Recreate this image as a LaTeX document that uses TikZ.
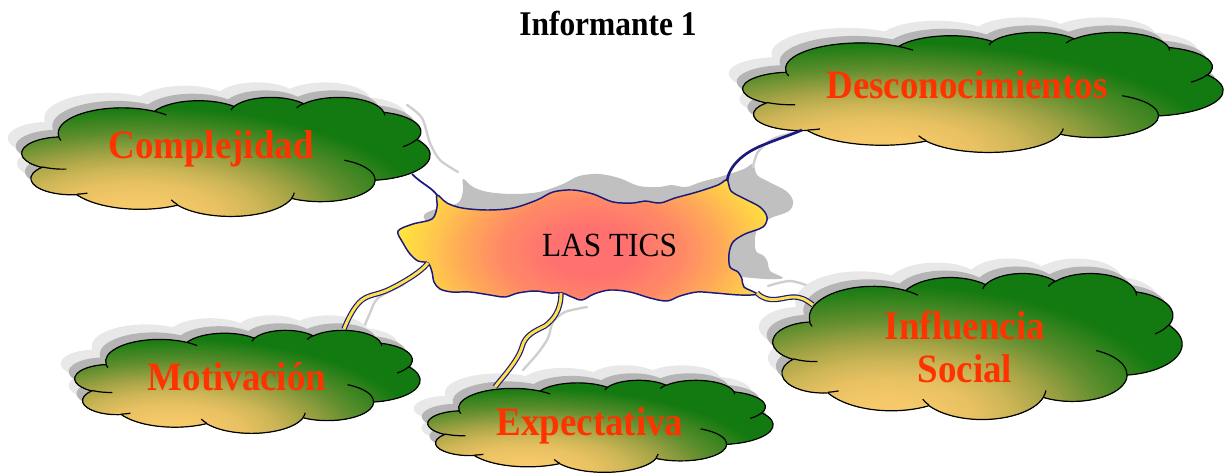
\documentclass[tikz,border=0pt]{standalone}
\usepackage{fontspec}
\setmainfont{Liberation Serif}
\usepackage{graphicx}

\definecolor{navyc}{HTML}{1A1A7E}
\definecolor{yel}{HTML}{FFE14A}
\definecolor{txtred}{HTML}{FF3300}
\definecolor{shdark}{HTML}{B5B5B5}
\definecolor{shlight}{HTML}{E8E8E8}
\definecolor{blobshadow}{HTML}{C0C0C0}
\definecolor{cshad}{HTML}{CFCFCF}
\definecolor{cya}{HTML}{F6C96A}
\definecolor{cyb}{HTML}{E8C162}
\definecolor{cyc}{HTML}{CBB556}
\definecolor{cyd}{HTML}{A2A345}
\definecolor{cye}{HTML}{5F8E2E}
\definecolor{cyf}{HTML}{127A10}
\definecolor{ba}{HTML}{FF7070}
\definecolor{bb}{HTML}{FF8A66}
\definecolor{bc}{HTML}{FFAA58}
\definecolor{bd}{HTML}{FFCC4A}
\definecolor{be}{HTML}{FFE33E}

% gradient colour helpers
\newcommand\cloudcol[1]{%
 \pgfmathsetmacro\rr{#1}%
 \ifdim\rr pt<0.14pt \colorlet{gc}{cya}%
 \else\ifdim\rr pt<0.34pt \pgfmathsetmacro\gcp{100*(0.34-\rr)/0.20}\colorlet{gc}{cya!\gcp!cyb}%
 \else\ifdim\rr pt<0.50pt \pgfmathsetmacro\gcp{100*(0.50-\rr)/0.16}\colorlet{gc}{cyb!\gcp!cyc}%
 \else\ifdim\rr pt<0.66pt \pgfmathsetmacro\gcp{100*(0.66-\rr)/0.16}\colorlet{gc}{cyc!\gcp!cyd}%
 \else\ifdim\rr pt<0.86pt \pgfmathsetmacro\gcp{100*(0.86-\rr)/0.20}\colorlet{gc}{cyd!\gcp!cye}%
 \else\ifdim\rr pt<1.15pt \pgfmathsetmacro\gcp{100*(1.15-\rr)/0.29}\colorlet{gc}{cye!\gcp!cyf}%
 \else \colorlet{gc}{cyf}\fi\fi\fi\fi\fi\fi}
\newcommand\blobcol[1]{%
 \pgfmathsetmacro\rr{#1}%
 \ifdim\rr pt<0.2pt \colorlet{gc}{ba}%
 \else\ifdim\rr pt<0.48pt \pgfmathsetmacro\gcp{100*(0.48-\rr)/0.28}\colorlet{gc}{ba!\gcp!bb}%
 \else\ifdim\rr pt<0.68pt \pgfmathsetmacro\gcp{100*(0.68-\rr)/0.20}\colorlet{gc}{bb!\gcp!bc}%
 \else\ifdim\rr pt<0.86pt \pgfmathsetmacro\gcp{100*(0.86-\rr)/0.18}\colorlet{gc}{bc!\gcp!bd}%
 \else\ifdim\rr pt<1pt \pgfmathsetmacro\gcp{100*(1-\rr)/0.14}\colorlet{gc}{bd!\gcp!be}%
 \else \colorlet{gc}{be}\fi\fi\fi\fi\fi}

% visual-angle (DrawingML) arc -> TikZ parametric arc
\newcommand\ooarcdef[5]{%
  \pgfmathparse{atan2((#2)*sin(#4),(#3)*cos(#4))}\let\tmpS\pgfmathresult
  \pgfmathparse{atan2((#2)*sin((#4)+(#5)),(#3)*cos((#4)+(#5)))}\let\tmpE\pgfmathresult
  \pgfmathparse{\tmpE-\tmpS}\let\tmpD\pgfmathresult
  \pgfmathparse{\tmpD+360*round(((#5)-\tmpD)/360)}\let\tmpD\pgfmathresult
  \expandafter\xdef\csname oo#1\endcsname{arc[start angle=\tmpS, delta angle=\tmpD, x radius=#2, y radius=#3]}}

\ooarcdef{A}{67.53}{91.90}{-190.48748}{123.78053}
\ooarcdef{B}{53.33}{72.67}{-144.10238}{89.94523}
\ooarcdef{C}{43.65}{59.45}{-145.80792}{99.72302}
\ooarcdef{D}{48.57}{65.95}{-130.98607}{117.24173}
\ooarcdef{E}{53.33}{72.73}{-78.70888}{109.02692}
\ooarcdef{F}{67.75}{92.20}{-46.26725}{130.269}
\ooarcdef{G}{57.85}{78.67}{0.62502}{114.03333}
\ooarcdef{H}{67.52}{92.15}{22.4516}{115.17255}
\ooarcdef{I}{77.20}{105.43}{66.24263}{75.71102}
\ooarcdef{J}{43.60}{59.18}{-274.94208}{146.73557}
\ooarcdef{K}{43.45}{59.45}{-246.8285}{152.51885}

\ooarcdef{Ia}{43.45}{59.45}{86.742}{26.4295}
\ooarcdef{Ib}{43.60}{59.18}{73.61047}{11.44747}
\ooarcdef{Ic}{67.52}{92.15}{137.62415}{14.0811}
\ooarcdef{Id}{67.52}{92.15}{6.45327}{15.99835}
\ooarcdef{Ie}{57.85}{78.67}{-70.29235}{70.91737}
\ooarcdef{If}{53.33}{72.73}{30.31803}{27.7515}
\ooarcdef{Ig}{48.57}{65.95}{-13.74433}{14.8589}
\ooarcdef{Ih}{48.57}{65.95}{-149.18145}{18.19537}
\ooarcdef{Ii}{43.65}{59.45}{-163.49427}{17.68635}
\ooarcdef{Ij}{67.53}{91.90}{-66.70695}{12.31935}
\ooarcdef{Ik}{67.53}{91.90}{153.59678}{11.85567}

\newcommand\cloudpath{(39.00,143.70) \ooA \ooB \ooC \ooD \ooE \ooF \ooG \ooH \ooI \ooJ \ooK -- cycle}
\newcommand\cloudinner{(46.93,261.77) \ooIa (69.28,348.99) \ooIb (164.78,390.90) \ooIc
  (288.27,347.51) \ooId (341.29,229.54) \ooIe (417.98,153.54) \ooIf (383.24,54.26) \ooIg
  (290.78,39.52) \ooIh (221.41,47.20) \ooIi (140.00,51.92) \ooIj (41.27,157.89) \ooIk}

\newcommand\blobpath{plot[smooth cycle, tension=0.55] coordinates {
 (398,231) (413,224) (432,219) (437,207) (437,195) (447,203) (462,208) (487,210)
 (513,208) (537,200) (553,192) (573,190) (593,194) (613,202) (633,203) (645,201)
 (660,203) (675,198) (697,192) (718,185) (727,180) (731,191) (743,198) (760,207)
 (767,217) (763,227) (745,234) (733,242) (729,254) (730,267) (738,272) (742,279)
 (744,287) (757,294) (740,295) (715,293) (697,292) (680,296) (667,301) (650,298)
 (630,292) (610,290) (594,294) (582,300) (572,297) (562,293) (550,293) (535,291)
 (518,293) (505,297) (490,295) (470,292) (452,292) (440,289) (434,282) (432,272)
 (428,263) (418,261) (410,254) (403,243)}}

\newcommand\drawcloud[4]{%
  \fill[shlight, shift={({#1-14},{#2-15})}, xscale={#3/432}, yscale={#4/432}] \cloudpath;
  \fill[shdark, shift={({#1-6},{#2-7})}, xscale={#3/432}, yscale={#4/432}] \cloudpath;
  \begin{scope}
    \clip[shift={(#1,#2)}, xscale={#3/432}, yscale={#4/432}] \cloudpath;
    \fill[cyf] ({#1-5},{#2-5}) rectangle ({#1+#3+5},{#2+#4+5});
    \foreach \k in {72,71,...,1} {%
      \cloudcol{(\k-0.5)/60}%
      \fill[gc] ({#1+0.28*#3},{#2+#4}) ellipse [x radius={\k/60*0.62*#3}, y radius={\k/60*0.8*#4}];
    }
  \end{scope}
  \draw[cloudline, shift={(#1,#2)}, xscale={#3/432}, yscale={#4/432}] \cloudpath;
  \draw[cloudline, shift={(#1,#2)}, xscale={#3/432}, yscale={#4/432}] \cloudinner;
}

\begin{document}
\begin{tikzpicture}[x=0.75pt, y=-0.75pt,
  cloudline/.style={draw=black, line width=0.9pt},
  conn/.style={draw=navyc, line width=0.9pt, double=yel, double distance=2.2pt},
  connthin/.style={draw=navyc, line width=1.3pt},
  connthick/.style={draw=navyc, line width=2pt},
  cshadow/.style={draw=cshad, line width=1.8pt, line cap=round},
  lbl/.style={font=\fontsize{27.7}{29.6}\selectfont\bfseries, text=txtred, anchor=base, inner sep=0pt},
  titlestyle/.style={font=\fontsize{23.6}{28}\selectfont\bfseries, text=black, anchor=base, inner sep=0pt},
  ticsstyle/.style={font=\fontsize{23.5}{28}\selectfont, text=black, anchor=base, inner sep=0pt}]
\useasboundingbox (0,0) rectangle (1228,474);

% blob shadow
\fill[blobshadow, shift={(26,-16)}] \blobpath;

% connector shadows
\draw[cshadow] plot[smooth] coordinates {(407,105) (422,118) (430,143) (440,160) (458,172)};
\draw[cshadow] plot[smooth] coordinates {(800,131) (773,139) (758,152) (753,167)};
\draw[cshadow] plot[smooth] coordinates {(768,286) (790,281) (812,287) (830,292)};
\draw[cshadow] plot[smooth] coordinates {(587,307) (565,312) (553,322) (548,338) (538,353) (523,370)};
\draw[cshadow] plot[smooth] coordinates {(403,285) (378,298) (370,313) (364,327)};

% clouds
\drawcloud{22}{97}{408}{119}
\drawcloud{743}{32}{480}{120}
\drawcloud{773}{273}{409}{146}
\drawcloud{75}{330}{345}{103}
\drawcloud{428}{380}{345}{92}

% central blob
\begin{scope}
  \clip \blobpath;
  \fill[be] (390,170) rectangle (780,310);
  \foreach \k in {50,49,...,1} {%
    \blobcol{(\k-0.5)/50}%
    \fill[gc] (592,252) ellipse [x radius={\k/50*192}, y radius={\k/50*115}];
  }
\end{scope}
\draw[navyc, line width=1.1pt] \blobpath;

% connector end points
\coordinate (jC) at (437,195); \coordinate (cC) at (412,174);
\coordinate (jD) at (727,181); \coordinate (mD) at (763,145); \coordinate (cD) at (802,130);
\coordinate (jI) at (757,293); \coordinate (mI) at (793,297); \coordinate (cI) at (813,305);
\coordinate (jE) at (561,293); \coordinate (mE) at (545,326); \coordinate (nE) at (522,347); \coordinate (cE) at (495,387);
\coordinate (jM) at (428,263); \coordinate (mM) at (390,289); \coordinate (nM) at (362,300); \coordinate (cM) at (344,329);

% connectors
\draw[connthin] (jC) .. controls +(-6,-8) and +(10,10) .. (cC);
\draw[connthick] (jD) .. controls +(2,-15) and +(-20,8) .. (mD) .. controls +(20,-8) and +(-14,6) .. (cD);
\draw[conn] (jI) .. controls +(12,12) and +(-10,0) .. (mI) .. controls +(8,0) and +(-8,-6) .. (cI);
\draw[conn] (jE) .. controls +(0,18) and +(8,-6) .. (mE) .. controls +(-10,5) and +(3,-12) .. (nE) .. controls +(-4,14) and +(6,-8) .. (cE);
\draw[conn] (jM) .. controls +(-8,10) and +(12,-6) .. (mM) .. controls +(-12,6) and +(8,-6) .. (nM) .. controls +(-8,6) and +(3,-8) .. (cM);

% texts
\node[titlestyle] (title) at (608,36) {\scalebox{1}[1.1]{Informante 1}};
\node[ticsstyle] (tics) at (609.5,257) {\scalebox{1}[1.08]{LAS TICS}};
\node[lbl] (tComp) at (211,159) {\scalebox{1}[1.09]{Complejidad}};
\node[lbl] (tDesc) at (967,99) {\scalebox{1}[1.09]{Desconocimientos}};
\node[lbl] (tInf) at (965,339) {\scalebox{1}[1.09]{\begin{tabular}[t]{@{}c@{}}Influencia\\Social\end{tabular}}};
\node[lbl] (tMot) at (237,390) {\scalebox{1}[1.09]{Motivación}};
\node[lbl] (tExp) at (590,435) {\scalebox{1}[1.09]{Expectativa}};
\end{tikzpicture}
\end{document}
